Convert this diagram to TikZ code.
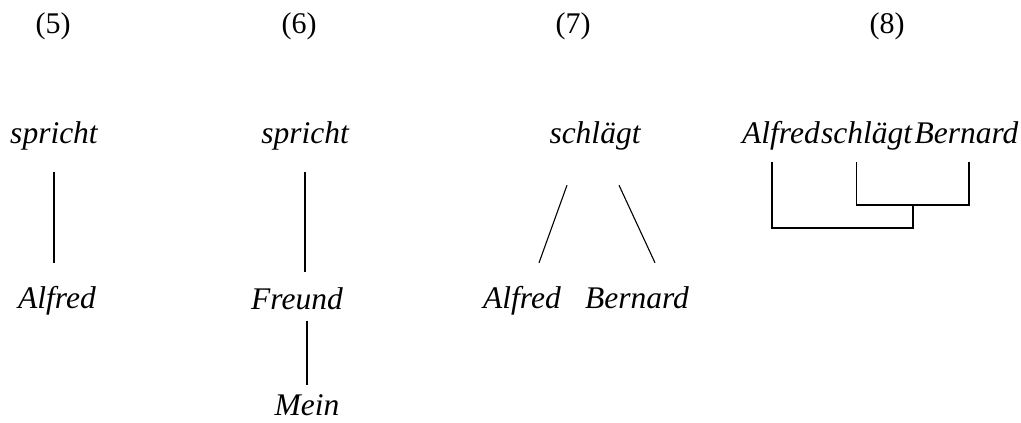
\documentclass[tikz,border=0pt]{standalone}
\usepackage{fontspec}
\setmainfont{Liberation Serif}[ItalicFont={Liberation Serif Italic}]
\usetikzlibrary{positioning}
\tikzset{
        word/.style={inner sep=0pt, anchor=base, font=\fontsize{31.5}{36}\selectfont\itshape, text height=22pt, text depth=7pt},
        % Example numbers
        number/.style={inner sep=0pt, anchor=base, font=\fontsize{30}{36}\selectfont},
        % Dependency lines
        dep/.style={line width=1.1pt},
        % Bracket lines
        bracket/.style={line width=1.1pt}
}
\begin{document}
\begin{tikzpicture}[x=1pt, y=-1pt]
    \useasboundingbox (0,0) rectangle (1021,423);
    % numbers
    \node[number] (n5) at (53,33) {(5)};
    \node[number] (n6) at (299,33) {(6)};
    \node[number] (n7) at (573,33) {(7)};
    \node[number] (n8) at (887,33) {(8)};
    % (5)
    \node[word] (s5) at (54,143) {spricht};
    \node[word] (a5) at (57,308) {Alfred};
    \draw[dep, shorten <=22pt, shorten >=23pt] (s5.south) -- (s5.south |- a5.north);
    % (6)
    \node[word] (s6) at (305,143) {spricht};
    \node[word] (f6) at (297,309) {Freund};
    \node[word] (m6) at (307,415) {Mein};
    \draw[dep, shorten <=22pt, shorten >=15pt] (s6.south) -- (s6.south |- f6.north);
    \draw[dep, shorten <=5pt, shorten >=8pt] (f6.south -| m6.south) -- (m6.north);
    % (7)
    \node[word] (k7) at (595,143) {schlägt};
    \node[word] (a7) at (522,308) {Alfred};
    \node[word] (b7) at (637,308) {Bernard};
    \draw[dep] ([xshift=-28pt,yshift=-35pt]k7.south) -- ([xshift=17pt,yshift=23pt]a7.north);
    \draw[dep] ([xshift=24pt,yshift=-35pt]k7.south) -- ([xshift=18pt,yshift=23pt]b7.north);
    % (8)
    \node[word, anchor=base west] (a8) at (742,143) {Alfred};
    \node[word, base right=1pt of a8] (k8) {schlägt};
    \node[word, base right=2pt of k8] (b8) {Bernard};
    \coordinate (ja) at (913,228);
    \coordinate (jb) at (913,206);
    \coordinate (jc) at (969,205);
    \draw[bracket] ([xshift=-9pt,yshift=-12pt]a8.south) |- (ja) -- (jb);
    \draw[bracket] ([xshift=-10pt,yshift=-12pt]k8.south) |- (jc) -- ([yshift=-12pt]jc |- b8.south);
\end{tikzpicture}
\end{document}
